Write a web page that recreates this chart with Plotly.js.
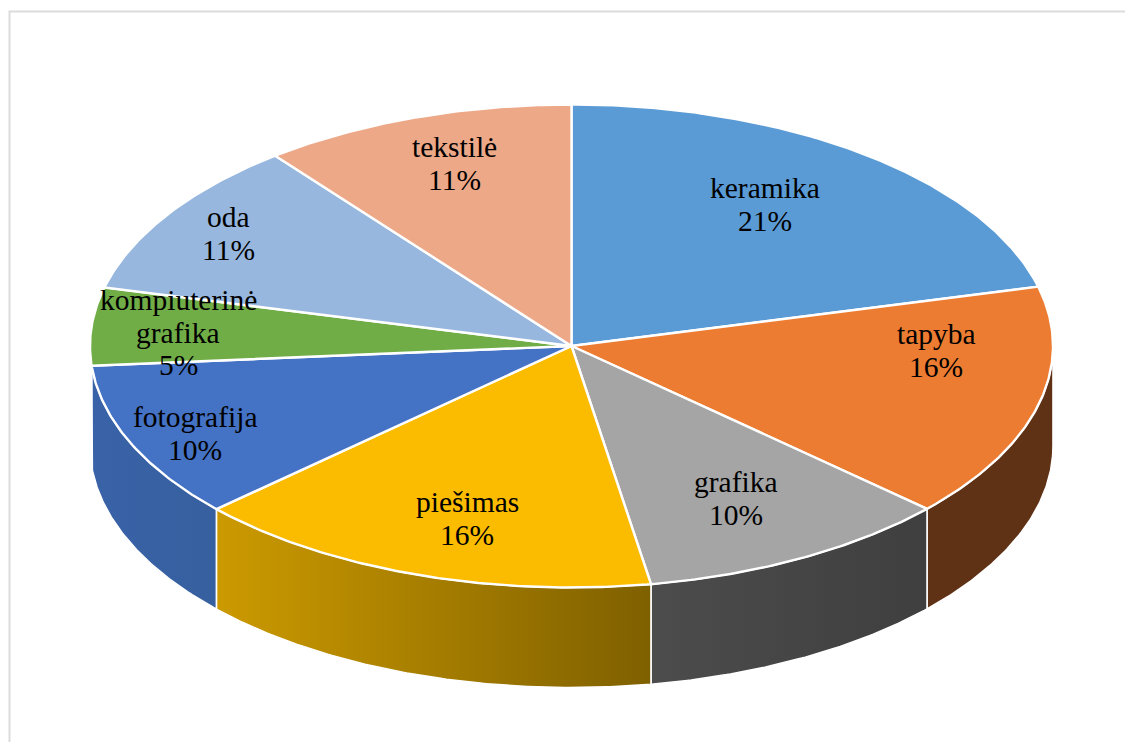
<!DOCTYPE html>
<html>
<head>
<meta charset="utf-8">
<script src="https://cdn.plot.ly/plotly-3.0.1.min.js"></script>
<style>html,body{margin:0;padding:0;background:#fff;overflow:hidden}#chart{width:1125px;height:742px}</style>
</head>
<body>
<div id="chart"></div>
<script>
// Data
var categories = ["keramika","tapyba","grafika","piešimas","fotografija","kompiuterinė<br>grafika","oda","tekstilė"];
var shares = [21.05,15.73,10.58,15.84,10.5,5.2,10.55,10.55];
var percentLabels = ["21%","16%","10%","16%","10%","5%","11%","11%"];
var topColors = ["#5B9BD5","#EC7C31","#A5A5A5","#FBBC00","#4472C4","#70AD47","#97B7DE","#EDA888"];
var wallLeft  = ["#5B9BD5","#5F3215","#4C4C4C","#CC9A00","#3A62A8","#5F9040","#97B7DE","#EDA888"];
var wallRight = ["#5B9BD5","#5F3215","#3F3F3F","#7F6000","#36609F","#5F9040","#97B7DE","#EDA888"];
var labelCentreX = [765,936,736,467,195,178,228,454];
var labelFirstLineY = [188,334,482,502,417,300,217,147];

// Geometry of the tilted disc, in pixels of the axes
var cx = 571.5, cy = 346, rx = 481.5, ry = 241.5, depth = 100;
var lineGap = 32.7, fontSize = 29.5;

function px(deg){ return cx + rx*Math.sin(deg*Math.PI/180); }
function py(deg){ return cy - ry*Math.cos(deg*Math.PI/180); }

var total = shares.reduce(function(a,b){return a+b;},0);
var walls = [], tops = [], annotations = [], acc = 0;

categories.forEach(function(name,i){
  var a = acc/total*360, b = (acc+shares[i])/total*360;
  acc += shares[i];

  // top slice
  var X=[cx], Y=[cy], n=Math.max(4,Math.ceil(b-a)*2);
  for(var k=0;k<=n;k++){ var t=a+(b-a)*k/n; X.push(px(t)); Y.push(py(t)); }
  X.push(cx); Y.push(cy);
  tops.push({type:"scatter",mode:"lines",x:X,y:Y,fill:"toself",fillcolor:topColors[i],
    line:{color:"#fff",width:2.4},hoverinfo:"skip",showlegend:false});

  // outer wall, only the front half of the rim shows
  var s=Math.max(a,90), e=Math.min(b,270);
  if(e>s){
    var WX=[],WY=[],m=Math.max(4,Math.ceil(e-s)*2),j,u;
    for(j=0;j<=m;j++){u=s+(e-s)*j/m;WX.push(px(u));WY.push(py(u));}
    for(j=m;j>=0;j--){u=s+(e-s)*j/m;WX.push(px(u));WY.push(py(u)+depth);}
    WX.push(WX[0]);WY.push(WY[0]);
    walls.push({type:"scatter",mode:"lines",x:WX,y:WY,fill:"toself",
      fillgradient:{type:"horizontal",colorscale:[[0,wallLeft[i]],[1,wallRight[i]]]},
      line:{color:"#fff",width:1.6},hoverinfo:"skip",showlegend:false});
  }

  // labels, one annotation per text line for the tight line spacing
  name.split("<br>").concat([percentLabels[i]]).forEach(function(line,l){
    annotations.push({x:labelCentreX[i],y:labelFirstLineY[i]+l*lineGap,xref:"x",yref:"y",
      text:line,showarrow:false,xanchor:"center",yanchor:"middle",
      font:{family:"Liberation Serif, Times New Roman, serif",size:fontSize,color:"#000"}});
  });
});

var layout = {
  width:1125,height:742,margin:{l:0,r:0,t:0,b:0},
  paper_bgcolor:"#fff",plot_bgcolor:"#fff",showlegend:false,
  xaxis:{range:[0,1125],visible:false,fixedrange:true},
  yaxis:{range:[742,0],visible:false,fixedrange:true},
  annotations:annotations,
  shapes:[{type:"path",xref:"x",yref:"y",path:"M 9.5 742 L 9.5 11.5 L 1125 11.5",
    line:{color:"#DCDCDC",width:2},layer:"below"}]
};

Plotly.newPlot("chart",walls.concat(tops),layout,{displayModeBar:false,staticPlot:true});
</script>
</body>
</html>
